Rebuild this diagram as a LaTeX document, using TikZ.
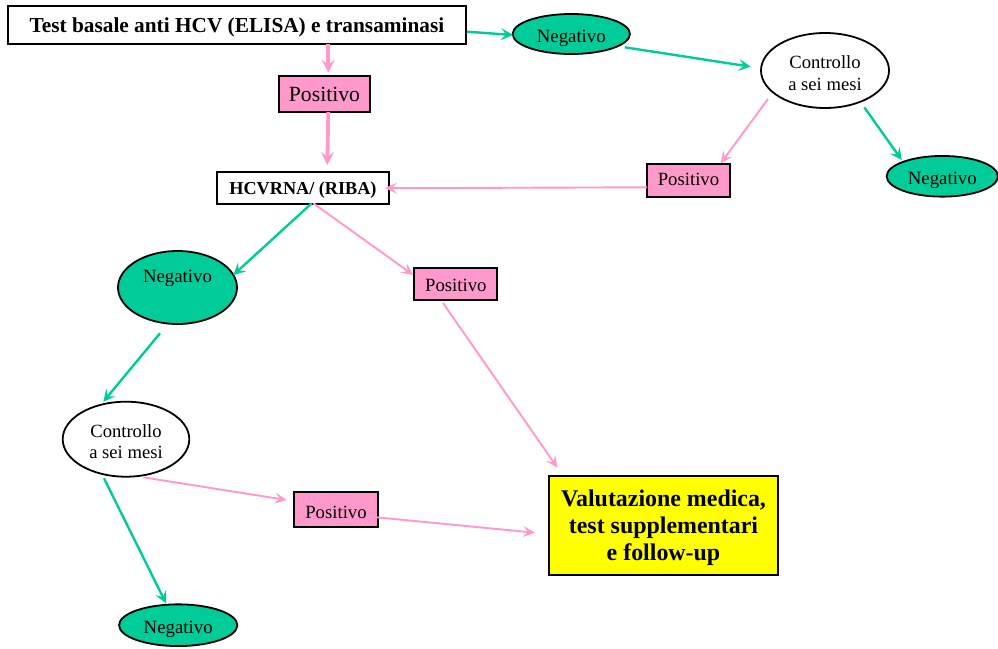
\documentclass[tikz,border=0pt]{standalone}
\usepackage{fontspec}
\setmainfont{Liberation Serif}
\usetikzlibrary{shapes.geometric,arrows.meta,calc}
\definecolor{grn}{RGB}{0,204,153}
\definecolor{pnk}{RGB}{255,153,204}
\definecolor{ylw}{RGB}{255,255,0}
\begin{document}
\begin{tikzpicture}[x=1pt,y=-1pt,
  box/.style={draw=black,line width=1.8pt,rectangle,inner sep=0pt,align=center},
  posbox/.style={box,fill=pnk,font=\fontsize{18.7}{22}\selectfont,text depth=0pt},
  negell/.style={draw=black,line width=1.8pt,ellipse,inner sep=0pt,fill=grn,font=\fontsize{18.8}{22}\selectfont,text height=16.6pt,text depth=0pt},
  ctrlell/.style={draw=black,line width=1.8pt,ellipse,inner sep=0pt,fill=white},
  ctrltext/.style={align=center,yshift=-2.7pt,font=\fontsize{18.6}{21.3}\selectfont},
  ga/.style={draw=grn,line width=2.4pt,-{Stealth[length=12pt,width=12pt,inset=5pt]}},
  pa/.style={draw=pnk,line width=1.9pt,-{Stealth[length=12pt,width=11pt,inset=5pt]}},
  pthick/.style={draw=pnk,line width=3.8pt,-{Stealth[length=13pt,width=13pt,inset=5pt]}}
]
\useasboundingbox (0,0) rectangle (998,648);
% nodes
\node[box,minimum width=457.4pt,minimum height=38.3pt,text depth=0pt,font=\bfseries\fontsize{21.3}{25}\selectfont] (top) at (237,24.8) {Test basale anti HCV (ELISA) e transaminasi};
\node[posbox,minimum width=91pt,minimum height=36.3pt,text height=15pt,font=\fontsize{21.7}{25}\selectfont] (pos1) at (324.5,94.2) {Positivo};
\node[negell,minimum width=117.3pt,minimum height=40pt] (neg1) at (571.3,34) {Negativo};
\node[ctrlell,minimum width=128pt,minimum height=75pt,label={[ctrltext]center:Controllo\\a sei mesi}] (ctrl1) at (825,70.5) {};
\node[posbox,minimum width=83pt,minimum height=32.7pt,text height=11pt] (pos2) at (688.5,180.3) {Positivo};
\node[negell,minimum width=111.3pt,minimum height=40.7pt,text height=17.2pt] (neg2) at (942.3,176.3) {Negativo};
\node[box,minimum width=172.6pt,minimum height=31.7pt,text depth=0pt,font=\bfseries\fontsize{18.2}{22}\selectfont] (hcv) at (303,188.2) {HCVRNA/ (RIBA)};
\node[draw=black,line width=1.8pt,ellipse,inner sep=0pt,fill=grn,minimum width=119pt,minimum height=73pt,label={[yshift=10.9pt,text height=12.4pt,text depth=0pt,font=\fontsize{18.8}{22}\selectfont]center:Negativo}] (neg3) at (177.5,287.5) {};
\node[posbox,minimum width=83pt,minimum height=31.7pt,text height=15pt] (pos3) at (455.8,284.2) {Positivo};
\node[ctrlell,minimum width=126.6pt,minimum height=75pt,label={[ctrltext]center:Controllo\\a sei mesi}] (ctrl2) at (126,439.2) {};
\node[posbox,minimum width=83.4pt,minimum height=34.4pt,text height=17.6pt] (pos4) at (336,509.5) {Positivo};
\node[negell,minimum width=118.3pt,minimum height=41.7pt] (neg4) at (178.2,625.2) {Negativo};
\node[box,fill=ylw,minimum width=228.4pt,minimum height=99.3pt,text depth=0pt,font=\bfseries\fontsize{23.9}{27.3}\selectfont] (yel) at (663.5,525.3) {Valutazione medica,\\test supplementari\\e follow-up};
% connectors
\draw[ga] ($(top)+(229.7,6.9)$) -- ($(neg1)+(-58.3,1)$);
\draw[pthick] ($(top)+(91.3,19.2)$) -- ($(pos1)+(3.8,-21.5)$);
\draw[pthick] ($(pos1)+(3.8,17.8)$) -- ($(hcv)+(24.3,-23.2)$);
\draw[ga] ($(neg1)+(53.5,13.3)$) -- ($(ctrl1)+(-74.3,-3.8)$);
\draw[pa] ($(ctrl1)+(-57,28.5)$) -- ($(pos2)+(32.2,-17)$);
\draw[ga] ($(ctrl1)+(39.3,36.8)$) -- ($(neg2)+(-40.6,-16.3)$);
\draw[pa] ($(pos2)+(-41.5,7)$) -- ($(hcv)+(82,0)$);
\draw[ga] ($(hcv)+(8.7,15.1)$) -- ($(neg3)+(55.8,-12.5)$);
\draw[pa] ($(hcv)+(10.3,15.1)$) -- ($(pos3)+(-42.5,-9.2)$);
\draw[ga] ($(neg3)+(-17.5,45.8)$) -- ($(ctrl2)+(-22.7,-37.5)$);
\draw[pa] ($(pos3)+(-12.8,18.8)$) -- ($(yel)+(-106,-57.5)$);
\draw[pa] ($(ctrl2)+(17.3,38.1)$) -- ($(pos4)+(-49.3,-9.5)$);
\draw[ga] ($(ctrl2)+(-22,39.1)$) -- ($(neg4)+(-12.2,-21.9)$);
\draw[pa] ($(pos4)+(40.7,7.8)$) -- ($(yel)+(-128.5,7.4)$);
\end{tikzpicture}
\end{document}
